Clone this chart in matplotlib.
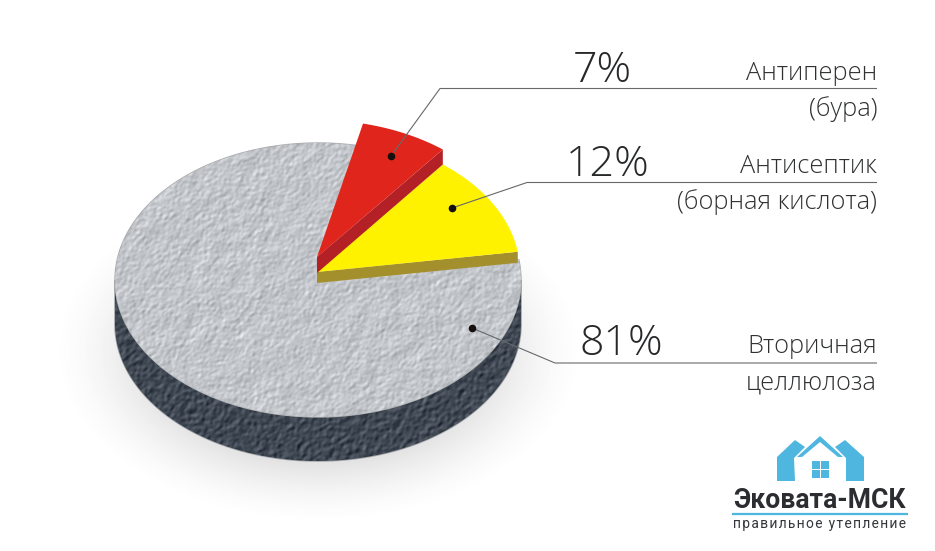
import numpy as np
import matplotlib
matplotlib.use("Agg")
import matplotlib.pyplot as plt
from matplotlib.patches import Polygon

# data
shares = [7, 12, 81]
pct_labels = ["7%", "12%", "81%"]
name_labels = [["Антиперен", "(бура)"], ["Антисептик", "(борная кислота)"], ["Вторичная", "целлюлоза"]]

W, H = 935, 551
RX, RY = 203, 137
CX, CY = 318, 280
DEPTH = 44
START = 8.5  # angle where the yellow slice begins


def arc(cx, cy, t0, t1, n=120):
    t = np.radians(np.linspace(t0, t1, n))
    return np.column_stack([cx + RX * np.cos(t), cy - RY * np.sin(t)])


def sector(cx, cy, t0, t1):
    return np.vstack([[cx, cy], arc(cx, cy, t0, t1)])


def relief(seed, scale):
    # stucco surface of the disc, only a decoration
    rng = np.random.default_rng(seed)
    noise = rng.standard_normal((H, W))
    fy = np.fft.fftfreq(H)[:, None]
    fx = np.fft.fftfreq(W)[None, :]
    kernel = np.exp(-(fx**2 + fy**2) * (2 * np.pi * scale) ** 2 / 2)
    smooth = np.fft.ifft2(np.fft.fft2(noise) * kernel).real
    bump = np.gradient(smooth, axis=1) + np.gradient(smooth, axis=0)
    return bump / bump.std()


fig = plt.figure(figsize=(W / 100, H / 100), dpi=100)
ax = fig.add_axes([0, 0, 1, 1])
ax.set_xlim(0, W)
ax.set_ylim(H, 0)
ax.axis("off")

# soft shadow under the disc
yy, xx = np.mgrid[0:H, 0:W]
dist = np.sqrt(((xx - CX) / 265) ** 2 + ((yy - 350) / 172) ** 2)
shade = np.zeros((H, W, 4))
shade[..., :3] = 0.45
shade[..., 3] = 0.30 * np.clip((1 - dist) / 0.45, 0, 1) ** 1.5
ax.imshow(shade, extent=(0, W, H, 0), aspect="auto", zorder=1)

# side wall of the disc
wall = np.vstack([arc(CX, CY, 180, 360), arc(CX, CY + DEPTH, 360, 180)])
wall_patch = Polygon(wall, closed=True, fc="#3f4954", ec="#a3a6a9", lw=1.2, zorder=2)
ax.add_patch(wall_patch)
bump = relief(3, 1.4)
wall_img = np.array([64, 73, 83])[None, None, :] / 255 + bump[..., None] * 0.045
im = ax.imshow(np.clip(wall_img, 0, 1), extent=(0, W, H, 0), aspect="auto", zorder=3)
im.set_clip_path(wall_patch)

# slice angles come from the shares
a_yellow = START + shares[1] * 3.6
a_red = a_yellow + shares[0] * 3.6

# grey slice with its texture
grey_patch = Polygon(sector(CX, CY, a_red, START + 360), closed=True, fc="#c0c3c7",
                     ec="#a9abae", lw=1, zorder=4)
ax.add_patch(grey_patch)
bump = relief(7, 1.2) + 0.4 * relief(11, 5)
grey_img = np.array([194, 197, 201])[None, None, :] / 255 + bump[..., None] * 0.036
im = ax.imshow(np.clip(grey_img, 0, 1), extent=(0, W, H, 0), aspect="auto", zorder=5)
im.set_clip_path(grey_patch)

# yellow slice, lifted above the disc
yc = 272
edge = arc(317, yc, START, START, 1)[0]
side = np.array([[317, yc], edge, edge + [0, 11], [317, yc + 11]])
ax.add_patch(Polygon(side, closed=True, fc="#a38f2c", ec="none", zorder=6))
ax.add_patch(Polygon(sector(317, yc, START, a_yellow), closed=True, fc="#fff200", ec="none", zorder=7))

# red slice, lifted further
rc = 257
end = arc(317, rc, a_yellow, a_yellow, 1)[0]
side = np.array([[317, rc], end, end + [0, 15], [317, rc + 16]])
ax.add_patch(Polygon(side, closed=True, fc="#b32025", ec="none", zorder=8))
ax.add_patch(Polygon(sector(317, rc, a_yellow, a_red), closed=True, fc="#e0261c", ec="none", zorder=9))

# leaders
leaders = [[(391, 156), (440, 88.5), (877, 88.5)],
           [(452, 208), (527, 182.5), (877, 182.5)],
           [(472, 328), (555, 363), (877, 363)]]
for pts in leaders:
    xs, ys = zip(*pts)
    ax.plot(xs, ys, color="#66696c", lw=0.8, zorder=10, solid_capstyle="butt")
    ax.plot(xs[0], ys[0], "o", color="#15100f", ms=5.5, mew=0, zorder=11)

# labels
pct_pos = [(632, 82), (650, 176), (663, 355)]
name_pos = [(80, 116), (173, 209), (353, 389)]
for i in range(3):
    ax.text(pct_pos[i][0], pct_pos[i][1], pct_labels[i], ha="right", va="baseline",
            fontsize=31, family="Open Sans", fontweight="light", color="#26282a", zorder=12)
    for line, y in zip(name_labels[i], name_pos[i]):
        ax.text(877, y, line, ha="right", va="baseline", fontsize=18.3,
                family="Open Sans", fontweight="light", color="#2e3032", zorder=12)

# logo, outlines traced in pixels
blue = "#4fb6e0"
left_house = [(777, 457), (795, 440), (805, 447), (794, 458), (795, 481), (777, 481)]
right_house = [(864, 457), (845, 440), (835, 447), (846, 458), (846, 481), (864, 481)]
roof = [(820, 436), (843, 457), (838, 457), (820, 442), (802, 457), (797, 457)]
for shape in (left_house, right_house, roof):
    ax.add_patch(Polygon(shape, closed=True, fc=blue, ec="none", zorder=12))
for x0 in (812, 821):
    for y0 in (461, 470):
        ax.add_patch(Polygon([(x0, y0), (x0 + 7.5, y0), (x0 + 7.5, y0 + 7.5), (x0, y0 + 7.5)],
                             closed=True, fc=blue, ec="none", zorder=12))
ax.text(733, 508, "Эковата-МСК", fontsize=19.2, fontweight="bold", family="Roboto",
        color="#2b2d30", ha="left", va="baseline", zorder=12)
ax.plot([732, 908], [514, 514], color=blue, lw=1.6, zorder=12, solid_capstyle="butt")
ax.text(733, 528, "\u200a".join("правильное утепление"), fontsize=9.9,
        family=["Roboto", "DejaVu Sans"], color="#33363a", ha="left", va="baseline", zorder=12)

fig.savefig("out.png", dpi=100, facecolor="white")
